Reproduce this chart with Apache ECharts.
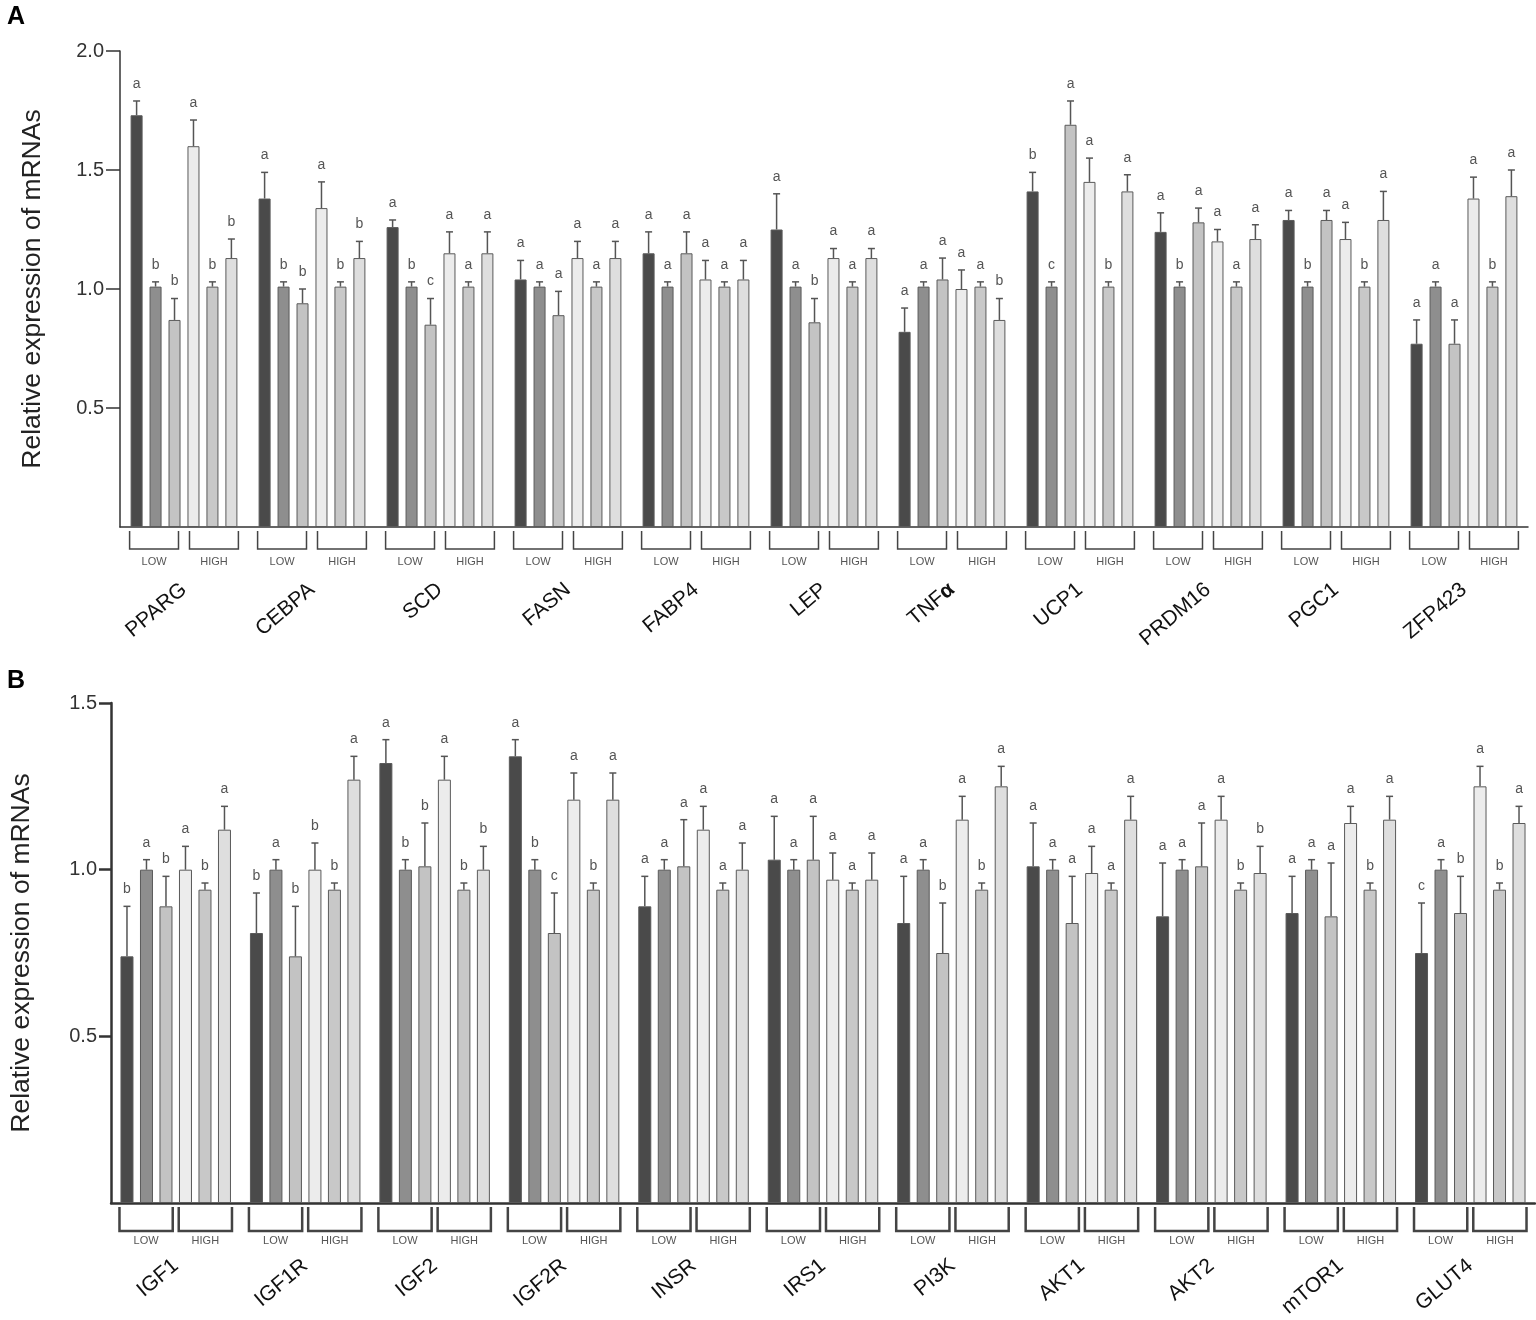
<!DOCTYPE html>
<html>
<head>
<meta charset="utf-8">
<title>Relative expression of mRNAs</title>
<script src="https://cdn.jsdelivr.net/npm/echarts@6/dist/echarts.min.js"></script>
<style>
  html, body { margin: 0; padding: 0; background: #fff; }
  #chart { width: 1536px; height: 1320px; }
</style>
</head>
<body>
<div id="chart"></div>
<script>
// panel A: adipogenic / thermogenic genes
var genesA = ['PPARG', 'CEBPA', 'SCD', 'FASN', 'FABP4', 'LEP', 'TNFα', 'UCP1', 'PRDM16', 'PGC1', 'ZFP423'];
// one row per gene: LOW x3, HIGH x3
var meanA = [
    [1.73, 1.01, 0.87, 1.60, 1.01, 1.13],
    [1.38, 1.01, 0.94, 1.34, 1.01, 1.13],
    [1.26, 1.01, 0.85, 1.15, 1.01, 1.15],
    [1.04, 1.01, 0.89, 1.13, 1.01, 1.13],
    [1.15, 1.01, 1.15, 1.04, 1.01, 1.04],
    [1.25, 1.01, 0.86, 1.13, 1.01, 1.13],
    [0.82, 1.01, 1.04, 1.00, 1.01, 0.87],
    [1.41, 1.01, 1.69, 1.45, 1.01, 1.41],
    [1.24, 1.01, 1.28, 1.20, 1.01, 1.21],
    [1.29, 1.01, 1.29, 1.21, 1.01, 1.29],
    [0.77, 1.01, 0.77, 1.38, 1.01, 1.39]
];
var semA = [
    [0.06, 0.02, 0.09, 0.11, 0.02, 0.08],
    [0.11, 0.02, 0.06, 0.11, 0.02, 0.07],
    [0.03, 0.02, 0.11, 0.09, 0.02, 0.09],
    [0.08, 0.02, 0.10, 0.07, 0.02, 0.07],
    [0.09, 0.02, 0.09, 0.08, 0.02, 0.08],
    [0.15, 0.02, 0.10, 0.04, 0.02, 0.04],
    [0.10, 0.02, 0.09, 0.08, 0.02, 0.09],
    [0.08, 0.02, 0.10, 0.10, 0.02, 0.07],
    [0.08, 0.02, 0.06, 0.05, 0.02, 0.06],
    [0.04, 0.02, 0.04, 0.07, 0.02, 0.12],
    [0.10, 0.02, 0.10, 0.09, 0.02, 0.11]
];
var lettersA = ['abbabb', 'abbabb', 'abcaaa', 'aaaaaa', 'aaaaaa', 'aabaaa', 'aaaaab', 'bcaaba', 'abaaaa', 'abaaba', 'aaaaba'];
var ticksA = [0.5, 1.0, 1.5, 2.0];

// panel B: IGF / insulin pathway genes
var genesB = ['IGF1', 'IGF1R', 'IGF2', 'IGF2R', 'INSR', 'IRS1', 'PI3K', 'AKT1', 'AKT2', 'mTOR1', 'GLUT4'];
var meanB = [
    [0.74, 1.00, 0.89, 1.00, 0.94, 1.12],
    [0.81, 1.00, 0.74, 1.00, 0.94, 1.27],
    [1.32, 1.00, 1.01, 1.27, 0.94, 1.00],
    [1.34, 1.00, 0.81, 1.21, 0.94, 1.21],
    [0.89, 1.00, 1.01, 1.12, 0.94, 1.00],
    [1.03, 1.00, 1.03, 0.97, 0.94, 0.97],
    [0.84, 1.00, 0.75, 1.15, 0.94, 1.25],
    [1.01, 1.00, 0.84, 0.99, 0.94, 1.15],
    [0.86, 1.00, 1.01, 1.15, 0.94, 0.99],
    [0.87, 1.00, 0.86, 1.14, 0.94, 1.15],
    [0.75, 1.00, 0.87, 1.25, 0.94, 1.14]
];
var semB = [
    [0.15, 0.03, 0.09, 0.07, 0.02, 0.07],
    [0.12, 0.03, 0.15, 0.08, 0.02, 0.07],
    [0.07, 0.03, 0.13, 0.07, 0.02, 0.07],
    [0.05, 0.03, 0.12, 0.08, 0.02, 0.08],
    [0.09, 0.03, 0.14, 0.07, 0.02, 0.08],
    [0.13, 0.03, 0.13, 0.08, 0.02, 0.08],
    [0.14, 0.03, 0.15, 0.07, 0.02, 0.06],
    [0.13, 0.03, 0.14, 0.08, 0.02, 0.07],
    [0.16, 0.03, 0.13, 0.07, 0.02, 0.08],
    [0.11, 0.03, 0.16, 0.05, 0.02, 0.07],
    [0.15, 0.03, 0.11, 0.06, 0.02, 0.05]
];
var lettersB = ['bababa', 'babbba', 'abbabb', 'abcaba', 'aaaaaa', 'aaaaaa', 'aababa', 'aaaaaa', 'aaaabb', 'aaaaba', 'cababa'];
var ticksB = [0.5, 1.0, 1.5];

var groupNames = ['LOW', 'HIGH'];
var fills = ['#4a4a4a', '#8e8e8e', '#c3c3c3', '#ececec', '#c8c8c8', '#dedede'];
var FONT = '"Liberation Sans", Arial, sans-serif';

// bar layout per panel
var layout = [
    { bw: 12, gap: 0.58, line: 1.5, bracketH: 18, bracketGap: 5.5, textDy: 35 },
    { bw: 13, gap: 0.50, line: 2.5, bracketH: 24, bracketGap: 3, textDy: 38 }
];

var series = [];

function addPanel(p, means, sems, letters) {
    var L = layout[p];
    var pitch = L.bw * (1 + L.gap);

    // bars
    for (var j = 0; j < 6; j++) {
        series.push({
            type: 'bar',
            xAxisIndex: p,
            yAxisIndex: p,
            barWidth: L.bw,
            barGap: (L.gap * 100) + '%',
            data: means.map(function (r) { return r[j]; }),
            itemStyle: { color: fills[j], borderColor: '#5a5a5a', borderWidth: 1 },
            silent: true
        });
    }

    // error bars + significance letters
    var errData = [];
    for (var i = 0; i < means.length; i++) {
        for (var k = 0; k < 6; k++) {
            errData.push([i, k, means[i][k], sems[i][k]]);
        }
    }
    series.push({
        type: 'custom',
        xAxisIndex: p,
        yAxisIndex: p,
        z: 5,
        silent: true,
        data: errData,
        encode: { x: 0, y: 2 },
        renderItem: function (params, api) {
            var i = api.value(0), k = api.value(1), m = api.value(2), s = api.value(3);
            var base = api.coord([i, m]);
            var top = api.coord([i, m + s]);
            var x = base[0] + (k - 2.5) * pitch;
            var st = { stroke: '#555', lineWidth: 1.5 };
            return {
                type: 'group',
                children: [
                    { type: 'line', shape: { x1: x, y1: base[1], x2: x, y2: top[1] }, style: st },
                    { type: 'line', shape: { x1: x - 3.5, y1: top[1], x2: x + 3.5, y2: top[1] }, style: st },
                    {
                        type: 'text',
                        style: {
                            x: x, y: top[1] - 17, text: letters[i].charAt(k),
                            fill: '#555', font: '14px ' + FONT,
                            textAlign: 'center', textVerticalAlign: 'middle'
                        }
                    }
                ]
            };
        }
    });

    // LOW / HIGH brackets under each gene
    series.push({
        type: 'custom',
        xAxisIndex: p,
        yAxisIndex: p,
        silent: true,
        clip: false,
        data: means.map(function (r, i) { return [i, 0]; }),
        encode: { x: 0, y: 1 },
        renderItem: function (params, api) {
            var c = api.coord([api.value(0), 0]);
            var outer = 2.5 * pitch + L.bw / 2 + 1;
            var y0 = c[1] + 4, y1 = c[1] + 4 + L.bracketH;
            var st = { stroke: '#444', lineWidth: L.line, fill: null };
            var spans = [[c[0] - outer, c[0] - L.bracketGap], [c[0] + L.bracketGap, c[0] + outer]];
            var kids = [];
            spans.forEach(function (sp, g) {
                kids.push({
                    type: 'polyline',
                    shape: { points: [[sp[0], y0], [sp[0], y1], [sp[1], y1], [sp[1], y0]] },
                    style: st
                });
                kids.push({
                    type: 'text',
                    style: {
                        x: (sp[0] + sp[1]) / 2, y: c[1] + L.textDy, text: groupNames[g],
                        fill: '#555', font: '11px ' + FONT,
                        textAlign: 'center', textVerticalAlign: 'middle'
                    }
                });
            });
            return { type: 'group', children: kids };
        }
    });
}

addPanel(0, meanA, semA, lettersA);
addPanel(1, meanB, semB, lettersB);

function xAxisFor(p, genes) {
    return {
        type: 'category',
        gridIndex: p,
        data: genes,
        axisTick: { show: false },
        axisLine: { lineStyle: { color: '#333', width: layout[p].line } },
        axisLabel: {
            interval: 0,
            rotate: 40,
            margin: 60,
            fontSize: 21,
            color: '#111',
            fontFamily: FONT,
            formatter: function (v) { return v === 'TNFα' ? 'TNF{b|α}' : v; },
            rich: { b: { fontSize: 21, fontWeight: 'bold', fontFamily: FONT, color: '#111' } }
        }
    };
}

function yAxisFor(p, max, ticks, gap) {
    return {
        type: 'value',
        gridIndex: p,
        min: 0,
        max: max,
        interval: 0.5,
        name: 'Relative expression of mRNAs',
        nameLocation: 'middle',
        nameGap: gap,
        nameTextStyle: { fontSize: 26.5, color: '#222', fontFamily: FONT },
        splitLine: { show: false },
        axisLine: { show: true, lineStyle: { color: '#333', width: layout[p].line } },
        axisTick: {
            show: true,
            length: p === 0 ? 14 : 12,
            customValues: ticks,
            lineStyle: { color: '#333', width: layout[p].line }
        },
        axisLabel: {
            customValues: ticks,
            margin: p === 0 ? 16 : 14,
            fontSize: 20,
            color: '#333',
            fontFamily: FONT,
            formatter: function (v) { return v === 0 ? '' : v.toFixed(1); }
        }
    };
}

var chart = echarts.init(document.getElementById('chart'), null, { renderer: 'canvas' });
chart.setOption({
    animation: false,
    backgroundColor: '#fff',
    grid: [
        { left: 120, top: 51, width: 1408, height: 476 },
        { left: 111, top: 703, width: 1424, height: 505 }
    ],
    xAxis: [xAxisFor(0, genesA), xAxisFor(1, genesB)],
    yAxis: [yAxisFor(0, 2.0, ticksA, 74), yAxisFor(1, 1.5, ticksB, 76)],
    graphic: [
        { type: 'text', left: 7, top: 5, style: { text: 'A', font: 'bold 25px ' + FONT, fill: '#000' } },
        { type: 'text', left: 7, top: 669, style: { text: 'B', font: 'bold 25px ' + FONT, fill: '#000' } }
    ],
    series: series
});
</script>
</body>
</html>
